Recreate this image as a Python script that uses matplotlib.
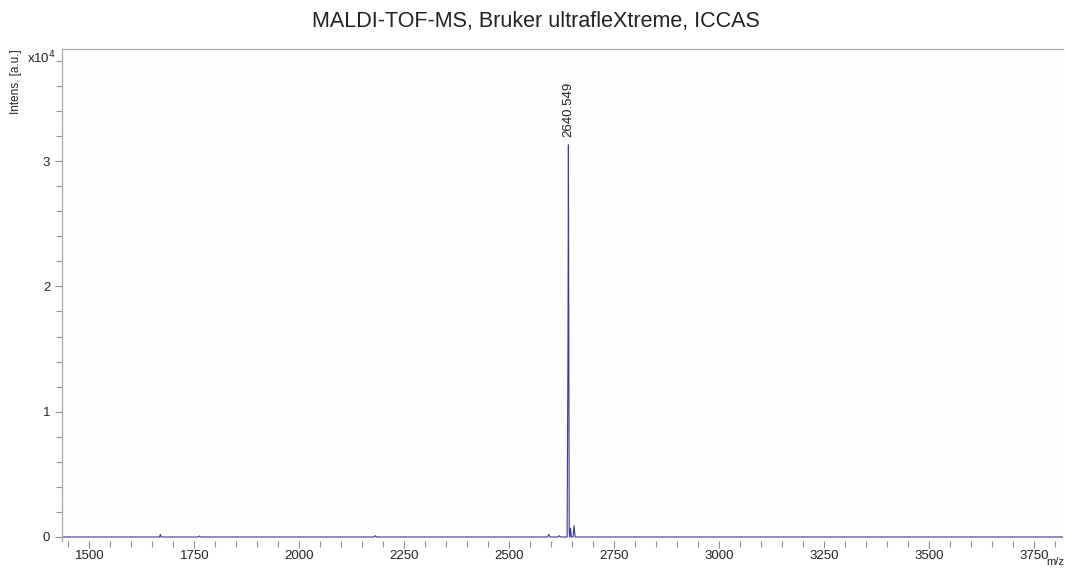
import matplotlib
matplotlib.use('Agg')
import matplotlib.pyplot as plt
from matplotlib.ticker import MultipleLocator

plt.rcParams['font.family'] = ['Liberation Sans', 'DejaVu Sans']

# spectrum (m/z, intensity in counts)
mz = [1435, 1667, 1669, 1671, 1759, 1762, 1765, 2178, 2181, 2184,
      2591, 2594, 2597, 2616, 2619, 2622, 2637.5, 2639.5, 2640.549, 2641.5,
      2642.5, 2643.5, 2645.5, 2647.5, 2651.5, 2654, 2656.5, 3818]
intens = [0, 0, 200, 0, 0, 80, 0, 0, 100, 0,
          0, 200, 0, 0, 100, 0, 0, 15000, 31300, 16000,
          500, 0, 700, 0, 0, 900, 0, 0]
peak_mz = 2640.549
peak_int = 31300
title = 'MALDI-TOF-MS, Bruker ultrafleXtreme, ICCAS'

fig = plt.figure(figsize=(10.65, 5.68), dpi=100)
ax = fig.add_axes([62/1065, 27/568, 1001/1065, 492/568])
ax.set_facecolor('#fdfdfd')

y = [v / 1e4 for v in intens]
ax.plot(mz, y, color='#3a3a92', lw=0.8)

ax.set_xlim(1435, 3818)
ax.set_ylim(-0.032, 3.895)
ax.xaxis.set_major_locator(MultipleLocator(250))
ax.xaxis.set_minor_locator(MultipleLocator(50))
ax.yaxis.set_major_locator(MultipleLocator(1))
ax.yaxis.set_minor_locator(MultipleLocator(0.2))

for s in ['right', 'bottom']:
    ax.spines[s].set_visible(False)
for s in ['left', 'top']:
    ax.spines[s].set_color('#a8a8a8')
    ax.spines[s].set_linewidth(0.9)
ax.tick_params(which='both', direction='out', colors='#909090', labelcolor='#222222',
               labelsize=9.5, top=False, right=False)
ax.tick_params(which='major', length=5, width=0.8)
ax.tick_params(which='minor', length=4, width=0.8)
ax.tick_params(axis='x', pad=1.5)

ax.text(peak_mz, peak_int / 1e4 + 0.06, f'{peak_mz:.3f}', rotation=90,
        ha='center', va='bottom', fontsize=9.5, color='#222222')

fig.text(536/1065, 1 - 22/568, title, ha='center', va='center', fontsize=15.5, color='#222222')
fig.text(16/1065, 1 - 82/568, 'Intens. [a.u.]', rotation=90, ha='center', va='center',
         fontsize=8.5, color='#222222')
fig.text(27/1065, 1 - 58/568, r'x10$^4$', ha='left', va='center', fontsize=9.5, color='#222222')
fig.text(1046/1065, 1 - 562/568, 'm/z', ha='left', va='center', fontsize=8, color='#222222')

fig.savefig('out.png', dpi=100, facecolor='white')
